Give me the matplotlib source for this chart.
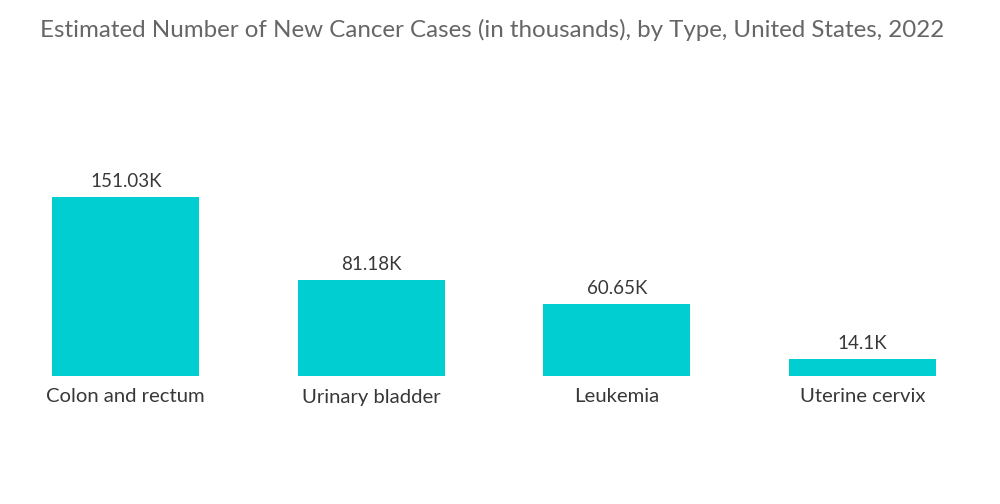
import matplotlib
matplotlib.use('Agg')
import matplotlib.pyplot as plt

# data (thousands of new cases)
categories = ['Colon and rectum', 'Urinary bladder', 'Leukemia', 'Uterine cervix']
values = [151.03, 81.18, 60.65, 14.1]
value_labels = ['151.03K', '81.18K', '60.65K', '14.1K']

plt.rcParams['font.family'] = ['Lato', 'DejaVu Sans']

fig = plt.figure(figsize=(10, 5.04), dpi=100)
# axes placed in pixel terms: x 3..985, y 100..376 (from top)
ax = fig.add_axes([3 / 1000, (504 - 376) / 504, 982 / 1000, 276 / 504])

x = range(len(categories))
ax.bar(x, values, width=0.6, color='#00CED1')

for i, (v, lab) in enumerate(zip(values, value_labels)):
    ax.text(i, v + 6, lab, ha='center', va='bottom', fontsize=13.5, color='#383838')

ax.set_xlim(-0.5, 3.5)
ax.set_ylim(0, 233)
ax.set_xticks(list(x))
ax.set_xticklabels(categories, fontsize=14.6, color='#383838')
ax.tick_params(axis='x', length=0, pad=9)
ax.set_yticks([])
for s in ax.spines.values():
    s.set_visible(False)

fig.text(0.492, 0.94, 'Estimated Number of New Cancer Cases (in thousands), by Type, United States, 2022',
         ha='center', va='center', fontsize=17.4, color='#666666')

fig.savefig('out.png', dpi=100)
plt.close()
